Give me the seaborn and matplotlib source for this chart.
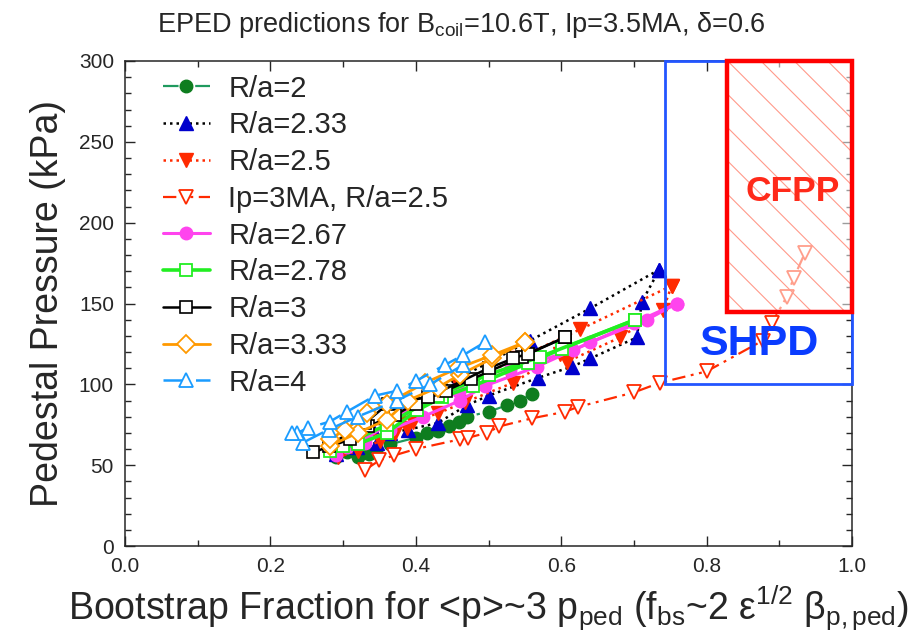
import matplotlib
matplotlib.use("Agg")
import matplotlib.pyplot as plt
import numpy as np
import pandas as pd
import seaborn as sns
from matplotlib.lines import Line2D
from matplotlib.patches import Rectangle
from matplotlib.ticker import MultipleLocator, FormatStrFormatter

# ---------------- data ----------------
series_labels = ["R/a=2", "R/a=2.33", "R/a=2.5", "Ip=3MA, R/a=2.5", "R/a=2.67",
                 "R/a=2.78", "R/a=3", "R/a=3.33", "R/a=4"]

ra2_x = [0.29, 0.305, 0.32, 0.335, 0.345, 0.365, 0.40, 0.415, 0.43, 0.445, 0.46, 0.47, 0.50, 0.525, 0.543, 0.56]
ra2_y = [55, 58, 55, 57, 59, 63, 67, 70, 71, 74, 77, 80, 83, 87, 90, 94]

ra233_lo_x = [0.29, 0.319, 0.347, 0.365, 0.389, 0.43, 0.47, 0.50, 0.568, 0.615, 0.64, 0.704, 0.711, 0.735]
ra233_lo_y = [57, 61, 64, 70, 72, 76, 87, 93, 104, 111, 116, 129, 151, 171]
ra233_up_x = [0.735, 0.64, 0.557, 0.46, 0.40, 0.34, 0.30]
ra233_up_y = [171, 147, 127, 104, 88, 73, 62]

ra25_lo_x = [0.293, 0.32, 0.351, 0.371, 0.388, 0.396, 0.43, 0.468, 0.534, 0.598, 0.608, 0.681, 0.74, 0.752]
ra25_lo_y = [55, 59, 65, 70, 73, 77, 82, 89, 101, 119, 114, 129, 146, 161]
ra25_up_x = [0.752, 0.626, 0.54, 0.46, 0.38, 0.30]
ra25_up_y = [161, 134, 116, 99, 80, 60]

ip3_x = [0.33, 0.35, 0.37, 0.40, 0.461, 0.472, 0.498, 0.515, 0.56, 0.605, 0.623, 0.70, 0.736,
         0.80, 0.877, 0.89, 0.91, 0.92, 0.935]
ip3_y = [47, 53, 56, 60, 66, 67, 70, 74, 79, 83, 86, 95, 101, 108, 127, 138, 154, 166, 181]

ra267_lo_x = [0.29, 0.305, 0.33, 0.365, 0.41, 0.461, 0.495, 0.567, 0.64, 0.718, 0.759]
ra267_lo_y = [56, 61, 64, 72, 80, 90, 99, 111, 126, 140, 150]
ra267_up_x = [0.759, 0.70, 0.616, 0.53, 0.46, 0.39, 0.33]
ra267_up_y = [150, 138, 121, 109, 95, 84, 66]

ra278_lo_x = [0.282, 0.32, 0.36, 0.402, 0.436, 0.479, 0.554, 0.601, 0.702]
ra278_lo_y = [59, 63, 70, 84, 92, 99, 113, 122, 140]
ra278_up_x = [0.702, 0.571, 0.50, 0.43, 0.36, 0.30]
ra278_up_y = [140, 117, 106, 93, 75, 62]

ra3_lo_x = [0.259, 0.31, 0.334, 0.371, 0.40, 0.441, 0.476, 0.546, 0.605]
ra3_lo_y = [58, 66, 74, 81, 88, 96, 103, 117, 129]
ra3_up_x = [0.605, 0.554, 0.534, 0.50, 0.417, 0.362, 0.33, 0.28]
ra3_up_y = [129, 119, 116, 110, 92, 88, 76, 62]

ra333_lo_x = [0.282, 0.32, 0.36, 0.389, 0.43, 0.461, 0.505, 0.55]
ra333_lo_y = [62, 70, 78, 90, 98, 106, 116, 126]
ra333_up_x = [0.55, 0.505, 0.458, 0.413, 0.36, 0.333, 0.303, 0.282]
ra333_up_y = [126, 118, 110, 101, 88, 82, 72, 66]

ra4_lo_x = [0.245, 0.28, 0.32, 0.374, 0.42, 0.465]
ra4_lo_y = [64, 72, 80, 90, 100, 112]
ra4_up_x = [0.495, 0.465, 0.44, 0.40, 0.374, 0.344, 0.305, 0.282, 0.252, 0.237, 0.23]
ra4_up_y = [126, 118, 112, 102, 96, 93, 83, 77, 73, 70, 70]

# region boxes (fraction / kPa)
shpd_x = [0.743, 1.0]
shpd_y = [100, 300]
cfpp_x = [0.828, 1.0]
cfpp_y = [145, 300]

# ---------------- build long table ----------------
branches = {
    "R/a=2": [(ra2_x, ra2_y)],
    "R/a=2.33": [(ra233_lo_x, ra233_lo_y), (ra233_up_x, ra233_up_y)],
    "R/a=2.5": [(ra25_lo_x, ra25_lo_y), (ra25_up_x, ra25_up_y)],
    "Ip=3MA, R/a=2.5": [(ip3_x, ip3_y)],
    "R/a=2.67": [(ra267_lo_x, ra267_lo_y), (ra267_up_x, ra267_up_y)],
    "R/a=2.78": [(ra278_lo_x, ra278_lo_y), (ra278_up_x, ra278_up_y)],
    "R/a=3": [(ra3_lo_x, ra3_lo_y), (ra3_up_x, ra3_up_y)],
    "R/a=3.33": [(ra333_lo_x, ra333_lo_y), (ra333_up_x, ra333_up_y)],
    "R/a=4": [(ra4_lo_x, ra4_lo_y), (ra4_up_x, ra4_up_y)],
}
rows = []
for lab, brs in branches.items():
    for b, (xs, ys) in enumerate(brs):
        for i, (xv, yv) in enumerate(zip(xs, ys)):
            rows.append(dict(series=lab, branch=b, order=i, x=xv, y=yv))
df = pd.DataFrame(rows)

styles = {
    "R/a=2": dict(color="#1f9a5e", linestyle=(0, (7, 3, 1.5, 3)), lw=1.6, marker="o", ms=9,
                  mfc="#0e7d1f", mec="#0e7d1f", mew=1.0),
    "R/a=2.33": dict(color="black", linestyle=(0, (1, 1.6)), lw=1.8, marker="^", ms=9.5,
                     mfc="#0000cc", mec="#0000cc", mew=1.0),
    "R/a=2.5": dict(color="#ff2a00", linestyle=(0, (1, 1.6)), lw=1.8, marker="v", ms=9.5,
                    mfc="#ff2a00", mec="#ff2a00", mew=1.0),
    "Ip=3MA, R/a=2.5": dict(color="#ff2a00", linestyle=(0, (6, 2.5, 1.3, 2.5, 1.3, 2.5)), lw=1.6,
                            marker="v", ms=9.5, mfc="white", mec="#ff2a00", mew=1.3),
    "R/a=2.67": dict(color="#ff44ee", linestyle="-", lw=2.2, marker="o", ms=9,
                     mfc="#ff44ee", mec="#ff44ee", mew=1.0),
    "R/a=2.78": dict(color="#22ee22", linestyle="-", lw=2.6, marker="s", ms=9,
                     mfc="white", mec="#22ee22", mew=1.3),
    "R/a=3": dict(color="black", linestyle="-", lw=1.8, marker="s", ms=9,
                  mfc="white", mec="black", mew=1.2),
    "R/a=3.33": dict(color="#ff9900", linestyle="-", lw=2.0, marker="D", ms=9,
                     mfc="white", mec="#ff9900", mew=1.3),
    "R/a=4": dict(color="#1a9cff", linestyle=(0, (9, 4)), lw=1.8, marker="^", ms=10,
                  mfc="white", mec="#1a9cff", mew=1.3),
}

# ---------------- style ----------------
sns.set_style("ticks")
fam = ["Liberation Sans", "DejaVu Sans"]
plt.rcParams["font.family"] = fam
plt.rcParams["mathtext.fontset"] = "custom"
plt.rcParams["mathtext.rm"] = "Liberation Sans"
plt.rcParams["mathtext.it"] = "Liberation Sans:italic"
plt.rcParams["hatch.linewidth"] = 0.8

fig = plt.figure(figsize=(9.22, 6.33), dpi=100)
ax = fig.add_axes([125 / 922, 1 - 546 / 633, 727 / 922, 485 / 633])

for lab in series_labels:
    sub = df[df["series"] == lab]
    st = styles[lab]
    sns.lineplot(data=sub, x="x", y="y", units="branch", estimator=None, sort=False,
                 ax=ax, legend=False, **st)

# SHPD box
ax.add_patch(Rectangle((shpd_x[0], shpd_y[0]), shpd_x[1] - shpd_x[0], shpd_y[1] - shpd_y[0],
                       fill=False, edgecolor="#2255ff", lw=2.0, zorder=6, clip_on=False))
# CFPP box: translucent hatched fill + red frame
ax.add_patch(Rectangle((cfpp_x[0], cfpp_y[0]), cfpp_x[1] - cfpp_x[0], cfpp_y[1] - cfpp_y[0],
                       facecolor=(1, 1, 1, 0.55), edgecolor="#ff9a8a", hatch="\\", lw=0, zorder=7))
ax.add_patch(Rectangle((cfpp_x[0], cfpp_y[0]), cfpp_x[1] - cfpp_x[0], cfpp_y[1] - cfpp_y[0],
                       fill=False, edgecolor="#ff0000", lw=3.2, zorder=8, clip_on=False))
ax.text(0.919, 219, "CFPP", color="#ff2a1a", fontsize=25.5, fontweight="bold",
        ha="center", va="center", zorder=9)
ax.text(0.872, 125, "SHPD", color="#0a3cff", fontsize=31, fontweight="bold",
        ha="center", va="center", zorder=9)

ax.set_xlim(0, 1.0)
ax.set_ylim(0, 300)
ax.xaxis.set_major_locator(MultipleLocator(0.2))
ax.xaxis.set_minor_locator(MultipleLocator(0.1))
ax.yaxis.set_major_locator(MultipleLocator(50))
ax.yaxis.set_minor_locator(MultipleLocator(10))
ax.xaxis.set_major_formatter(FormatStrFormatter("%.1f"))
ax.tick_params(which="both", direction="in", top=True, right=True, labelsize=15, width=1.0, pad=8)
ax.tick_params(which="major", length=7)
ax.tick_params(which="minor", length=4)
for sp in ax.spines.values():
    sp.set_linewidth(1.1)
    sp.set_visible(True)

ax.set_xlabel(r"Bootstrap Fraction for <p>~3 p$_{\rm ped}$ (f$_{\rm bs}$~2 ε$^{1/2}$ β$_{\rm p,ped}$)",
              fontsize=27, labelpad=5)
ax.set_ylabel("Pedestal Pressure (kPa)", fontsize=27, labelpad=9)
ax.set_title(r"EPED predictions for B$_{\rm coil}$=10.6T, Ip=3.5MA, δ=0.6", fontsize=19.5,
             pad=21, x=(461 - 125) / 727)

handles = []
for lab in series_labels:
    st = styles[lab]
    handles.append(Line2D([], [], color=st["color"], linestyle=st["linestyle"], lw=st["lw"],
                          marker=st["marker"], ms=st["ms"], mfc=st["mfc"], mec=st["mec"],
                          mew=st["mew"]))
ax.legend(handles, series_labels, loc="upper left", bbox_to_anchor=(0.036, 0.996),
          borderaxespad=0, frameon=False, fontsize=21, labelspacing=0.30,
          handlelength=1.6, handletextpad=0.65)

fig.savefig("out.png", dpi=100)
